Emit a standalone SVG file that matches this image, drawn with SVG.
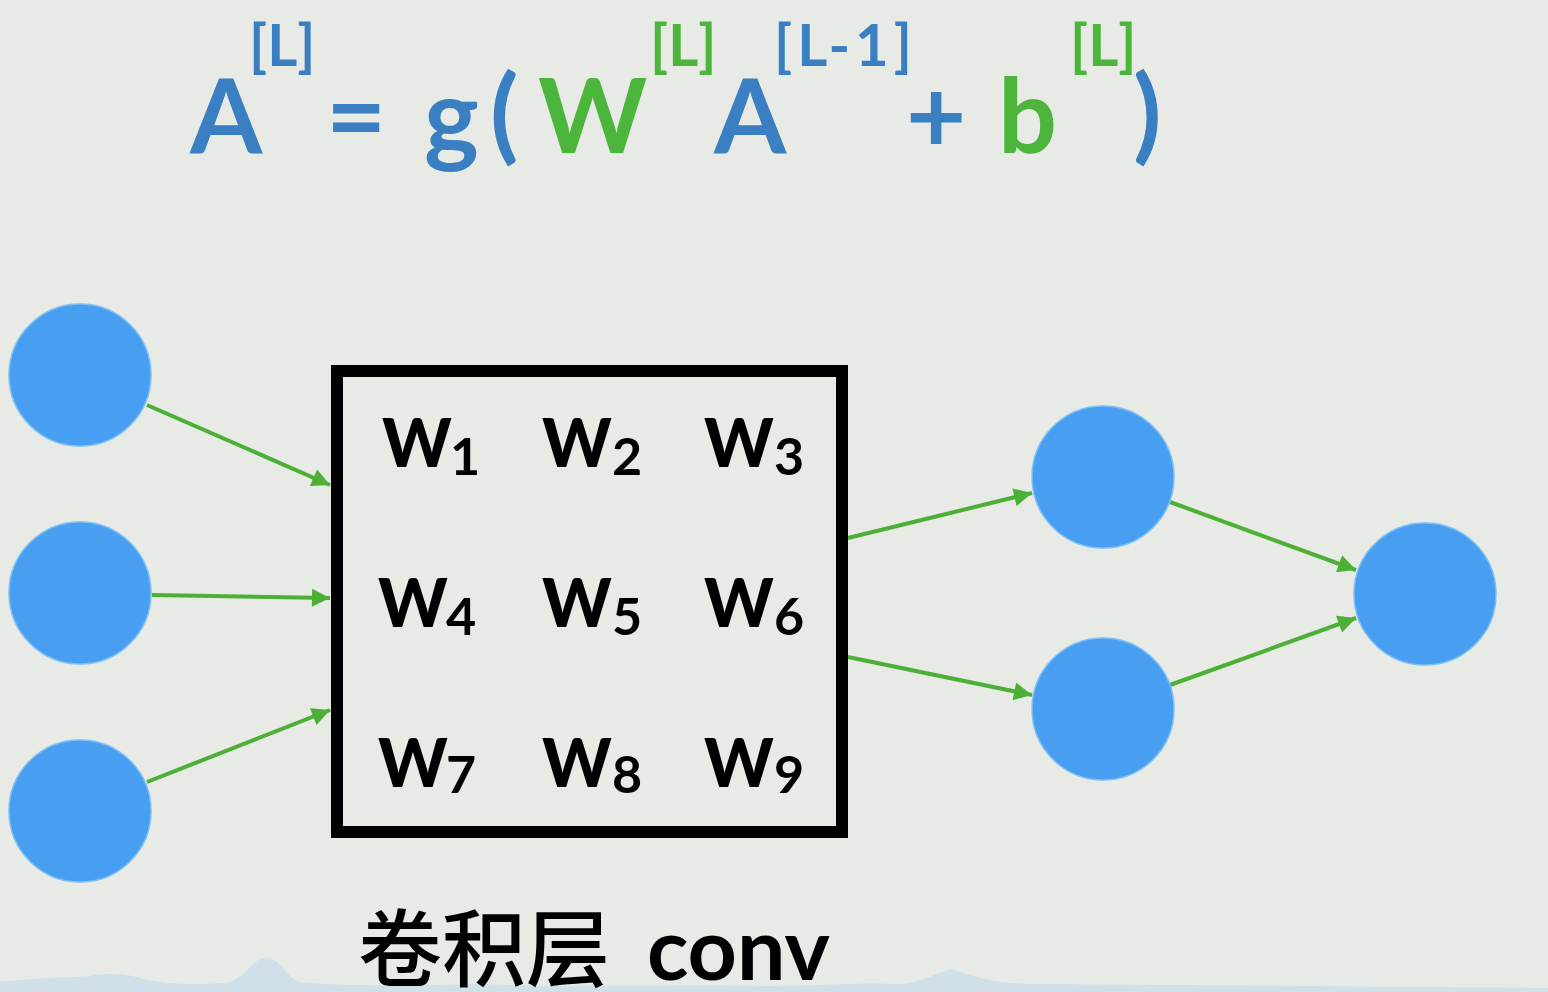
<svg xmlns="http://www.w3.org/2000/svg" width="1548" height="992" viewBox="0 0 1548 992">
<defs>
<style>
.bg{fill:#e7eae5}
.node{fill:#489ef1;stroke:#7cc0f5;stroke-width:1.5}
.edge{stroke:#4caf36;stroke-width:4;fill:none}
.big{font-family:Lato,"Noto Sans",sans-serif;font-weight:700;font-size:104px}
.sup{font-family:Lato,"Noto Sans",sans-serif;font-weight:700;font-size:58px}
.blue{fill:#3a7fc2}
.green{fill:#4cb53c}
.w{font-family:Lato,"Noto Sans",sans-serif;font-weight:900;font-size:66px;fill:#000}
.sub{font-family:Lato,"Noto Sans",sans-serif;font-weight:700;font-size:52px;fill:#000}
.cjk{font-family:"Noto Sans CJK SC",sans-serif;font-weight:500;font-size:84px;fill:#000}
.lbl{font-family:Lato,"Noto Sans",sans-serif;font-weight:700;font-size:86px;fill:#000}
</style>
<marker id="arr" viewBox="0 0 10 10" refX="10" refY="5" markerWidth="5.5" markerHeight="4.5" markerUnits="strokeWidth" orient="auto">
<path d="M0,0 L10,5 L0,10 z" fill="#4caf36"/>
</marker>
</defs>
<rect class="bg" x="0" y="0" width="1548" height="992"/>
<path d="M0,982 C30,978 60,978 90,976 C110,972 130,975 140,978 C160,984 200,986 230,982 C245,978 250,960 265,958 C280,956 285,978 300,982 C330,986 400,986 480,984 C560,988 700,984 760,986 C820,986 860,982 900,984 C930,982 940,968 955,970 C970,975 990,984 1040,984 L1548,988 L1548,992 L0,992 z" fill="#cfe0e8"/>
<g id="formula">
<text class="big blue" x="190" y="153">A</text>
<text class="sup blue" x="249" y="66">[L]</text>
<text class="big blue" x="326" y="153">=</text>
<text class="big blue" x="424" y="153">g</text>
<text class="big blue" x="490" y="150">(</text>
<text class="big green" x="538" y="153">W</text>
<text class="sup green" x="650" y="66">[L]</text>
<text class="big blue" x="714" y="153">A</text>
<text class="sup blue" x="774" y="66" letter-spacing="5">[L-1]</text>
<text class="big blue" x="906" y="153">+</text>
<text class="big green" x="998" y="153">b</text>
<text class="sup green" x="1070" y="66">[L]</text>
<text class="big blue" x="1133" y="150">)</text>
</g>
<g id="connectors">
<line class="edge" x1="147" y1="405" x2="330" y2="485" marker-end="url(#arr)"/>
<line class="edge" x1="152" y1="595" x2="330" y2="598" marker-end="url(#arr)"/>
<line class="edge" x1="147" y1="782" x2="330" y2="710" marker-end="url(#arr)"/>
<line class="edge" x1="848" y1="538" x2="1032" y2="493" marker-end="url(#arr)"/>
<line class="edge" x1="848" y1="657" x2="1032" y2="695" marker-end="url(#arr)"/>
<line class="edge" x1="1170" y1="502" x2="1356" y2="570" marker-end="url(#arr)"/>
<line class="edge" x1="1170" y1="685" x2="1356" y2="618" marker-end="url(#arr)"/>
</g>
<g id="in1"><circle class="node" cx="80" cy="375" r="71"/></g>
<g id="in2"><circle class="node" cx="80" cy="593" r="71"/></g>
<g id="in3"><circle class="node" cx="80" cy="811" r="71"/></g>
<g id="h1"><circle class="node" cx="1103" cy="477" r="71"/></g>
<g id="h2"><circle class="node" cx="1103" cy="709" r="71"/></g>
<g id="out"><circle class="node" cx="1425" cy="594" r="71"/></g>
<g id="conv">
<rect x="337" y="371" width="505" height="461" fill="none" stroke="#000" stroke-width="12"/>
<text class="w" x="382" y="467">W</text><text class="sub" x="450" y="475">1</text>
<text class="w" x="542" y="467">W</text><text class="sub" x="612" y="475">2</text>
<text class="w" x="704" y="467">W</text><text class="sub" x="774" y="475">3</text>
<text class="w" x="378" y="627">W</text><text class="sub" x="446" y="635">4</text>
<text class="w" x="542" y="627">W</text><text class="sub" x="612" y="635">5</text>
<text class="w" x="704" y="627">W</text><text class="sub" x="774" y="635">6</text>
<text class="w" x="378" y="787">W</text><text class="sub" x="446" y="793">7</text>
<text class="w" x="542" y="787">W</text><text class="sub" x="612" y="793">8</text>
<text class="w" x="704" y="787">W</text><text class="sub" x="774" y="793">9</text>
</g>
<g id="label">
<text x="358" y="980"><tspan class="cjk">卷积层</tspan><tspan class="lbl" x="626"> conv</tspan></text>
</g>
</svg>
